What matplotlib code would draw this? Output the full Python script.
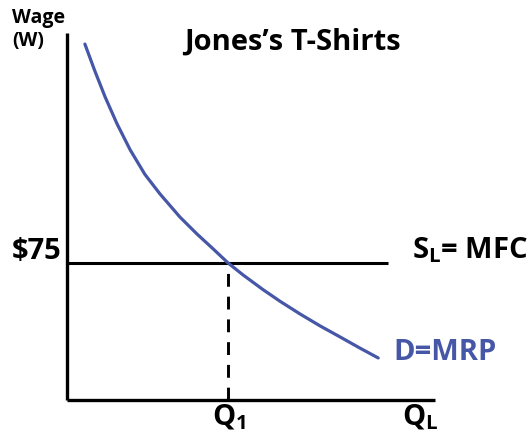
import numpy as np
import matplotlib
matplotlib.use("Agg")
import matplotlib.pyplot as plt

plt.rcParams['font.family'] = ['Open Sans', 'DejaVu Sans']
plt.rcParams['mathtext.fontset'] = 'custom'
plt.rcParams['mathtext.rm'] = 'Open Sans'
plt.rcParams['mathtext.bf'] = 'Open Sans:bold'

# demand (MRP) curve: quantity of labour vs wage
mrp_q = [0.45, 0.70, 0.96, 1.26, 1.59, 1.96, 2.34, 2.84, 3.27, 3.67, 4.05,
         4.43, 4.93, 5.36, 5.86, 6.37, 6.87, 7.37, 7.83]
mrp_w = [194.7, 180.0, 165.7, 151.0, 136.8, 123.4, 112.7, 100.1, 90.8, 82.8, 75.0,
         68.4, 60.4, 54.0, 47.1, 40.5, 34.5, 28.4, 23.0]

wage = 75          # market wage, S_L = MFC
q1 = 4.05          # hired quantity
x_axis_end = 9.26
y_axis_end = 200.7
supply_end = 8.08

blue = '#4657A7'

fig = plt.figure(figsize=(5.29, 4.42), dpi=100)
ax = fig.add_axes([0, 0, 1, 1])
ax.set_xlim(-1.686, 11.624)
ax.set_ylim(-22.97, 218.8)
ax.axis('off')

# axes
ax.plot([0, 0], [0, y_axis_end], color='black', lw=2.4, solid_capstyle='butt')
ax.plot([0, x_axis_end], [0, 0], color='black', lw=2.4, solid_capstyle='butt')

# supply of labour and demand
ax.plot([0, supply_end], [wage, wage], color='black', lw=2.2, solid_capstyle='butt')
ax.plot([q1, q1], [0, wage], color='black', lw=2.1, ls=(0, (4.4, 3.4)))
ax.plot(mrp_q, mrp_w, color=blue, lw=2.3, solid_capstyle='round', solid_joinstyle='round')

tkw = dict(fontweight='bold', fontsize=21, va='baseline')
ax.text(5.66, 191.5, "Jones\u2019s T-Shirts", ha='center', **tkw)
ax.text(-1.38, 206, "Wage", ha='left', va='baseline', fontweight='bold', fontsize=14)
ax.text(-1.38, 193.6, "(W)", ha='left', va='baseline', fontweight='bold', fontsize=14)
ax.text(-0.13, 77.1, "$75", ha='right', **tkw)
ax.text(8.68, 77.7, "S$_\\mathbf{L}$= MFC", ha='left', **tkw)
ax.text(8.20, 21.9, "D=MRP", ha='left', color=blue, **tkw)
ax.text(4.08, -13.7, "Q$_\\mathbf{1}$", ha='center', **tkw)
ax.text(8.43, -13.7, "Q$_\\mathbf{L}$", ha='left', **tkw)

fig.savefig('out.png', dpi=100)
